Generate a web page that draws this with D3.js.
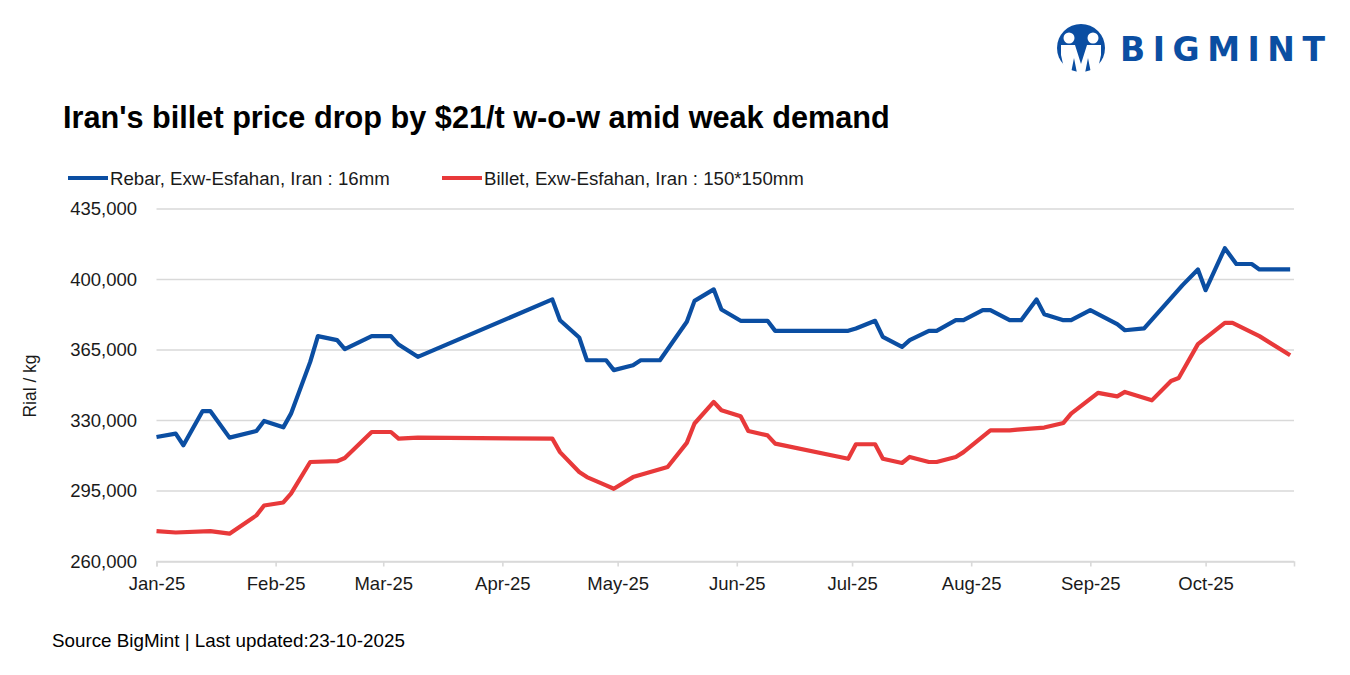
<!DOCTYPE html>
<html><head><meta charset="utf-8">
<script src="https://cdn.jsdelivr.net/npm/d3@7"></script>
<style>
body{margin:0;background:#fff;}
svg{display:block;font-family:"Liberation Sans",Arial,sans-serif;}
</style>
</head><body>
<svg id="chart" width="1350" height="675"></svg>
<script>
// ---- data ----
const rebarDates = ["2025-01-01","2025-01-06","2025-01-08","2025-01-13","2025-01-15","2025-01-20","2025-01-27","2025-01-29",
  "2025-02-03","2025-02-05","2025-02-10","2025-02-12","2025-02-17","2025-02-19","2025-02-26",
  "2025-03-03","2025-03-05","2025-03-10","2025-04-14","2025-04-16","2025-04-21","2025-04-23","2025-04-28","2025-04-30",
  "2025-05-05","2025-05-07","2025-05-12","2025-05-19","2025-05-21","2025-05-26","2025-05-28",
  "2025-06-02","2025-06-09","2025-06-11","2025-06-30","2025-07-02","2025-07-07","2025-07-09","2025-07-14","2025-07-16",
  "2025-07-21","2025-07-23","2025-07-28","2025-07-30","2025-08-04","2025-08-06","2025-08-11","2025-08-14","2025-08-18",
  "2025-08-20","2025-08-25","2025-08-27","2025-09-01","2025-09-08","2025-09-10","2025-09-15","2025-09-25","2025-09-29",
  "2025-10-01","2025-10-06","2025-10-09","2025-10-13","2025-10-15","2025-10-23"];
const rebarValues = [321800,323500,317700,334700,334700,321500,324800,329800,
  326600,333400,359100,371900,369900,365400,371900,
  371900,367700,361600,390100,379800,371200,359900,359900,355000,
  357400,359900,359900,379000,389400,395100,385100,
  379500,379500,374500,374500,375700,379500,371500,366500,369900,
  374500,374500,379800,379800,384800,384800,379800,379800,390100,
  382800,379800,379800,384800,377800,374800,375700,397200,405000,
  394700,415500,407700,407700,405000,405000];

const billetDates = ["2025-01-01","2025-01-06","2025-01-15","2025-01-20","2025-01-27","2025-01-29",
  "2025-02-03","2025-02-05","2025-02-10","2025-02-17","2025-02-19","2025-02-26",
  "2025-03-03","2025-03-05","2025-03-10","2025-04-14","2025-04-16","2025-04-21","2025-04-23","2025-04-28","2025-04-30",
  "2025-05-05","2025-05-14","2025-05-19","2025-05-21","2025-05-26","2025-05-28",
  "2025-06-02","2025-06-04","2025-06-09","2025-06-11","2025-06-30","2025-07-02","2025-07-07","2025-07-09","2025-07-14",
  "2025-07-16","2025-07-21","2025-07-23","2025-07-28","2025-07-30","2025-08-06","2025-08-11","2025-08-13","2025-08-20",
  "2025-08-25","2025-08-27","2025-09-03","2025-09-08","2025-09-10","2025-09-17","2025-09-22","2025-09-24","2025-09-29",
  "2025-10-06","2025-10-08","2025-10-15","2025-10-23"];
const billetValues = [275100,274400,275100,273800,282900,287800,
  289300,293700,309400,309800,311400,324300,
  324300,321000,321500,321000,314300,304400,301900,297800,296100,
  301900,306900,318900,328500,339200,335100,
  332100,324800,322600,318500,311000,318200,318200,311000,308900,
  311900,309400,309400,311900,314300,325100,325100,325500,326500,
  328800,333400,343700,342000,344200,340000,349600,351100,367900,
  378500,378500,371900,362400];

const yTickValues = [260000,295000,330000,365000,400000,435000];
const xDomainDates = ["2025-01-01","2025-10-24"];
const seriesNames = ["Rebar, Exw-Esfahan, Iran : 16mm","Billet, Exw-Esfahan, Iran : 150*150mm"];
const titleText = "Iran's billet price drop by $21/t w-o-w amid weak demand";
const yAxisTitle = "Rial / kg";
const sourceText = "Source BigMint | Last updated:23-10-2025";
const logoText = "BIGMINT";

// ---- setup ----
const parse = d3.timeParse("%Y-%m-%d");
const rebar = rebarDates.map((d,i)=>({date:parse(d), value:rebarValues[i]}));
const billet = billetDates.map((d,i)=>({date:parse(d), value:billetValues[i]}));
const colors = ["#0b4ea2","#e8393a"];

const svg = d3.select("#chart");
const plotL = 156.5, plotR = 1294, plotT = 209, plotB = 561.5;

const x = d3.scaleTime().domain(xDomainDates.map(parse)).range([plotL, plotR]);
const y = d3.scaleLinear().domain([260000, 435000]).range([plotB, plotT]);

function fit(sel, target){
  const fs = +sel.attr("font-size");
  const len = sel.node().getComputedTextLength();
  if (len > 0) sel.attr("font-size", fs*target/len);
}

// gridlines
svg.append("g").selectAll("line").data(yTickValues).join("line")
  .attr("x1", plotL).attr("x2", plotR)
  .attr("y1", d=>y(d)).attr("y2", d=>y(d))
  .attr("stroke", "#d9d9d9").attr("stroke-width", 1.6);

// y axis labels
const yAxis = d3.axisLeft(y).tickValues(yTickValues).tickFormat(d3.format(",")).tickSize(0).tickPadding(0);
const gy = svg.append("g").attr("transform", `translate(137,0)`).call(yAxis);
gy.select(".domain").remove();
gy.selectAll("text").attr("font-size", 18.5).attr("fill", "#1a1a1a")
  .attr("font-family", '"Liberation Sans",Arial,sans-serif');

// x axis
const xAxis = d3.axisBottom(x).ticks(d3.timeMonth.every(1)).tickFormat(d3.timeFormat("%b-%y")).tickSize(5).tickPadding(10);
const gx = svg.append("g").attr("transform", `translate(0,${plotB})`).call(xAxis);
gx.select(".domain").attr("stroke", "#d9d9d9").attr("stroke-width", 1.6);
gx.selectAll(".tick line").attr("stroke", "#d9d9d9").attr("stroke-width", 1.6);
gx.selectAll("text").attr("font-size", 18.5).attr("fill", "#1a1a1a")
  .attr("font-family", '"Liberation Sans",Arial,sans-serif');

// lines
const line = d3.line().x(d=>x(d.date)).y(d=>y(d.value));
[rebar, billet].forEach((s,i)=>{
  svg.append("path").datum(s).attr("d", line)
    .attr("fill","none").attr("stroke", colors[i]).attr("stroke-width", 4.2)
    .attr("stroke-linejoin","round").attr("stroke-linecap","butt");
});

// y-axis title
svg.append("text").attr("transform","translate(36,386) rotate(-90)")
  .attr("text-anchor","middle").attr("font-size",17.5).attr("fill","#1a1a1a").text(yAxisTitle);

// title
const t = svg.append("text").attr("x",63).attr("y",128).attr("font-size",30).attr("font-weight","bold")
  .attr("fill","#000").text(titleText);
fit(t, 827);

// legend
const legendX = [68, 442];
const legendW = [280, 320];
seriesNames.forEach((n,i)=>{
  svg.append("line").attr("x1",legendX[i]).attr("x2",legendX[i]+40).attr("y1",178).attr("y2",178)
    .attr("stroke",colors[i]).attr("stroke-width",4.2);
  const lt = svg.append("text").attr("x",legendX[i]+42).attr("y",184.5).attr("font-size",17.5)
    .attr("fill","#1a1a1a").text(n);
  fit(lt, legendW[i]);
});

// source
const st = svg.append("text").attr("x",52).attr("y",647).attr("font-size",17.5).attr("fill","#000").text(sourceText);
fit(st, 353);

// logo
const logo = svg.append("g");
const cx = 1081, cy = 48, r = 24;
logo.append("circle").attr("cx",cx).attr("cy",cy).attr("r",r).attr("fill",colors[0]);
logo.append("circle").attr("cx",cx-12).attr("cy",38).attr("r",5.5).attr("fill","#fff");
logo.append("circle").attr("cx",cx+12).attr("cy",38).attr("r",5.5).attr("fill","#fff");
const bodyL = [[-20,45],[-6,45],[0,64],[0,73],[-4,73],[-7,58],[-10,73],[-16,73],[-20,55]];
const bodyR = bodyL.map(p=>[-p[0],p[1]]);
[bodyL, bodyR].forEach(b=>{
  logo.append("path").attr("d", d3.line()(b.map(p=>[cx+p[0],p[1]]))+"Z").attr("fill","#fff");
});
logo.append("text").attr("x",1120).attr("y",61).attr("font-size",33).attr("font-weight","bold")
  .attr("font-family",'"DejaVu Sans",sans-serif').attr("fill",colors[0])
  .attr("textLength",205).attr("lengthAdjust","spacing").text(logoText);
</script>
</body></html>
